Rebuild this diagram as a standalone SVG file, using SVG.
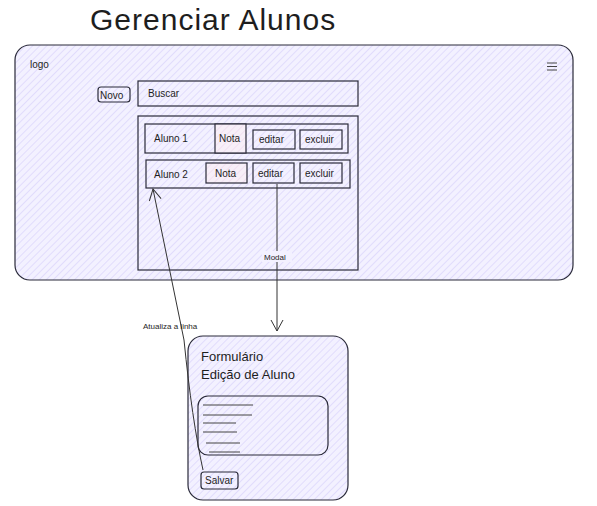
<svg xmlns="http://www.w3.org/2000/svg" width="597" height="506" viewBox="0 0 597 506">
<defs>
<pattern id="hach" patternUnits="userSpaceOnUse" width="5" height="5" patternTransform="rotate(45)">
<rect width="5" height="5" fill="#f3f1ff"/>
<line x1="0" y1="0" x2="0" y2="5" stroke="#dcd6fc" stroke-width="1.5"/>
</pattern>
<pattern id="hachPink" patternUnits="userSpaceOnUse" width="5" height="5" patternTransform="rotate(45)">
<rect width="5" height="5" fill="#f7eff8"/>
<line x1="0" y1="0" x2="0" y2="5" stroke="#efdcef" stroke-width="1.5"/>
</pattern>
<marker id="arr" markerWidth="14" markerHeight="14" refX="12" refY="7" orient="auto" markerUnits="userSpaceOnUse">
<path d="M1,1 L12,7 L1,13" fill="none" stroke="#333" stroke-width="1"/>
</marker>
</defs>
<style>
.box{fill:url(#hach);stroke:#2a2a3a;stroke-width:1.2}
.pink{fill:url(#hachPink);stroke:#2a2a3a;stroke-width:1.2}
.t{font-family:"Liberation Sans",sans-serif;fill:#1e1e1e}
.s{font-size:10px}
.conn{fill:none;stroke:#333;stroke-width:1}
.dash{stroke:#444;stroke-width:1}
</style>
<rect width="597" height="506" fill="#ffffff"/>
<text class="t" x="90" y="30" font-size="30" letter-spacing="1">Gerenciar Alunos</text>
<g id="frame">
<rect class="box" x="15" y="45" width="558" height="235" rx="15" stroke="#555"/>
<text class="t s" x="30" y="68">logo</text>
<line x1="547" y1="63" x2="557" y2="63" class="dash"/>
<line x1="547" y1="66.5" x2="557" y2="66.5" class="dash"/>
<line x1="547" y1="70" x2="557" y2="70" class="dash"/>
</g>
<g id="novo">
<rect class="box" x="98" y="87" width="32" height="15" rx="3"/>
<text class="t s" x="100" y="98.5">Novo</text>
</g>
<g id="buscar">
<rect class="box" x="138" y="81" width="220" height="25"/>
<text class="t s" x="148" y="97">Buscar</text>
</g>
<g id="lista">
<rect class="box" x="138" y="116" width="220" height="154"/>
</g>
<g id="aluno1">
<rect class="box" x="145" y="124" width="203" height="29"/>
<text class="t s" x="154" y="142">Aluno 1</text>
<rect class="pink" x="215" y="124" width="31" height="29"/>
<text class="t s" x="219" y="142">Nota</text>
<rect class="box" x="253" y="130" width="42" height="19"/>
<text class="t s" x="259" y="143">editar</text>
<rect class="box" x="300" y="130" width="42" height="19"/>
<text class="t s" x="305" y="143">excluir</text>
</g>
<g id="aluno2">
<rect class="box" x="146" y="160" width="204" height="28"/>
<text class="t s" x="154" y="178">Aluno 2</text>
<rect class="pink" x="206" y="163" width="41" height="20"/>
<text class="t s" x="215" y="176.5">Nota</text>
<rect class="box" x="253" y="163" width="41" height="20"/>
<text class="t s" x="258" y="176.5">editar</text>
<rect class="box" x="300" y="163" width="42" height="20"/>
<text class="t s" x="305" y="176.5">excluir</text>
</g>
<g id="formulario">
<rect class="box" x="188" y="336" width="160" height="164" rx="15"/>
<text class="t" x="201" y="361" font-size="13">Formulário</text>
<text class="t" x="201" y="379" font-size="13">Edição de Aluno</text>
<rect class="box" x="198" y="396" width="130" height="59" rx="10"/>
<line class="dash" x1="203" y1="405" x2="253" y2="405"/>
<line class="dash" x1="203" y1="415" x2="252" y2="415"/>
<line class="dash" x1="203" y1="423" x2="236" y2="423"/>
<line class="dash" x1="203" y1="432" x2="237" y2="432"/>
<line class="dash" x1="206" y1="443" x2="240" y2="443"/>
<line class="dash" x1="209" y1="452" x2="240" y2="452"/>
<rect class="box" x="201" y="472" width="37" height="17" rx="3"/>
<text class="t s" x="205" y="484">Salvar</text>
</g>
<g id="connectors">
<path class="conn" d="M277,184 L277,331" marker-end="url(#arr)"/>
<rect x="262" y="251" width="30" height="11" fill="#f3f1ff"/>
<text class="t" x="264" y="260" font-size="8">Modal</text>
<path class="conn" d="M203,470 Q192,420 184,340 L153,189" marker-end="url(#arr)"/>
<text class="t" x="143" y="329" font-size="8">Atualiza a linha</text>
</g>
</svg>
